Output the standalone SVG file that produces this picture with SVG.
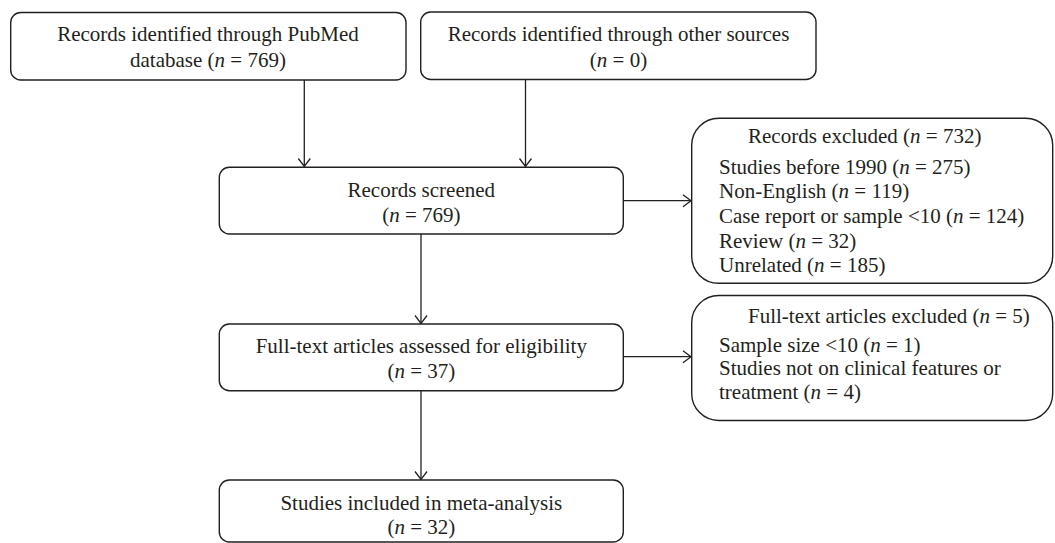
<svg xmlns="http://www.w3.org/2000/svg" width="1055" height="543" viewBox="0 0 1055 543">
<style>
.box{fill:#fff;stroke:#231f20;stroke-width:1.4}
.t{font-family:"Liberation Serif","Times New Roman",serif;font-size:21px;fill:#231f20}
.c{text-anchor:middle}
.i{font-style:italic}
.conn{stroke:#231f20;stroke-width:1.3;fill:none;marker-end:url(#arr)}
</style>
<defs>
<marker id="arr" markerUnits="userSpaceOnUse" viewBox="-10 -8 12 16" refX="0" refY="0" markerWidth="12" markerHeight="16" orient="auto">
<path d="M-8,-6 L0,0 L-8,6" fill="none" stroke="#231f20" stroke-width="1.3"/>
</marker>
</defs>
<rect width="1055" height="543" fill="#fff"/>
<g id="connectors">
<line class="conn" x1="304.3" y1="80" x2="304.3" y2="166.5"/>
<line class="conn" x1="525.5" y1="79.5" x2="525.5" y2="166.5"/>
<line class="conn" x1="421" y1="234" x2="421" y2="323.5"/>
<line class="conn" x1="421" y1="391" x2="421" y2="479.5"/>
<line class="conn" x1="623.3" y1="200.7" x2="691" y2="200.7"/>
<line class="conn" x1="623.3" y1="356.7" x2="691" y2="356.7"/>
</g>
<g id="pubmed">
<rect class="box" x="10.7" y="12.5" width="395.3" height="67.5" rx="10"/>
<text class="t c" x="208" y="40.7">Records identified through PubMed</text>
<text class="t c" x="208" y="66.7">database (<tspan class="i">n</tspan> = 769)</text>
</g>
<g id="other">
<rect class="box" x="420.7" y="12" width="395.3" height="67.5" rx="10"/>
<text class="t c" x="618.5" y="40.7">Records identified through other sources</text>
<text class="t c" x="618.5" y="66.7">(<tspan class="i">n</tspan> = 0)</text>
</g>
<g id="screened">
<rect class="box" x="219.3" y="167.3" width="404" height="66.7" rx="10"/>
<text class="t c" x="421.3" y="196.7">Records screened</text>
<text class="t c" x="421.3" y="221.7">(<tspan class="i">n</tspan> = 769)</text>
</g>
<g id="fulltext">
<rect class="box" x="219.3" y="324" width="404" height="66.7" rx="10"/>
<text class="t c" x="421.3" y="353.3">Full-text articles assessed for eligibility</text>
<text class="t c" x="421.3" y="378.3">(<tspan class="i">n</tspan> = 37)</text>
</g>
<g id="included">
<rect class="box" x="219.3" y="480" width="404" height="62" rx="10"/>
<text class="t c" x="421.3" y="510">Studies included in meta-analysis</text>
<text class="t c" x="421.3" y="534">(<tspan class="i">n</tspan> = 32)</text>
</g>
<g id="excluded1">
<rect class="box" x="691.7" y="118.3" width="361" height="165" rx="27"/>
<text class="t" x="748" y="142.7">Records excluded (<tspan class="i">n</tspan> = 732)</text>
<text class="t" x="719" y="174">Studies before 1990 (<tspan class="i">n</tspan> = 275)</text>
<text class="t" x="719" y="198.3">Non-English (<tspan class="i">n</tspan> = 119)</text>
<text class="t" x="719" y="223.3">Case report or sample &lt;10 (<tspan class="i">n</tspan> = 124)</text>
<text class="t" x="719" y="248.3">Review (<tspan class="i">n</tspan> = 32)</text>
<text class="t" x="719" y="271.7">Unrelated (<tspan class="i">n</tspan> = 185)</text>
</g>
<g id="excluded2">
<rect class="box" x="691.7" y="295.5" width="361" height="125" rx="27"/>
<text class="t" x="748" y="322.7">Full-text articles excluded (<tspan class="i">n</tspan> = 5)</text>
<text class="t" x="719" y="351.7">Sample size &lt;10 (<tspan class="i">n</tspan> = 1)</text>
<text class="t" x="719" y="375">Studies not on clinical features or</text>
<text class="t" x="719" y="399.3">treatment (<tspan class="i">n</tspan> = 4)</text>
</g>
</svg>
